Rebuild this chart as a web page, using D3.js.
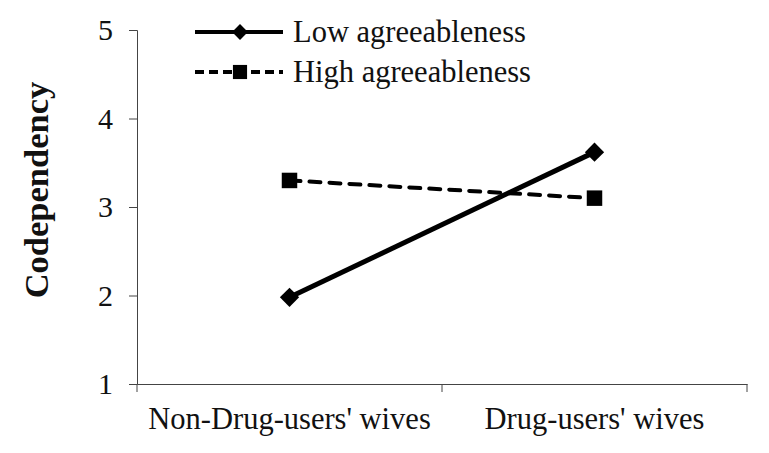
<!DOCTYPE html>
<html><head><meta charset="utf-8">
<script src="https://cdn.jsdelivr.net/npm/d3@7"></script>
<style>body{margin:0;background:#fff}svg{display:block}text{font-family:"Liberation Serif","Times New Roman",serif}</style>
</head><body><svg id="c" width="769" height="453"></svg>
<script>
const categories = ["Non-Drug-users' wives", "Drug-users' wives"];
const lowAgree = [1.98, 3.62];
const highAgree = [3.30, 3.10];
const yTicks = [1, 2, 3, 4, 5];
const seriesNames = ["Low agreeableness", "High agreeableness"];

(function(){
const svg = d3.select("#c");
const mLeft = 137, mRight = 747, mTop = 30, mBottom = 384;
const x = d3.scaleBand().domain(categories).range([mLeft, mRight]);
const y = d3.scaleLinear().domain([1, 5]).range([mBottom, mTop]);

// y axis
const ya = svg.append("g").attr("transform", `translate(${mLeft},0)`)
  .call(d3.axisLeft(y).tickValues(yTicks).tickSize(8).tickPadding(16).tickFormat(d3.format("d")));
ya.select(".domain").attr("stroke", "#444").attr("stroke-width", 1);
ya.selectAll(".tick line").attr("stroke", "#444");
ya.selectAll("text").attr("font-size", 30).attr("fill", "#111").attr("font-family", "Liberation Serif");

// x axis
const xa = svg.append("g").attr("transform", `translate(0,${mBottom})`)
  .call(d3.axisBottom(x).tickSize(0).tickPadding(23));
xa.select(".domain").attr("stroke", "#444").attr("stroke-width", 1);
xa.selectAll("text").attr("font-size", 30.5).attr("fill", "#111").attr("font-family", "Liberation Serif");
const bounds = [mLeft, mLeft + x.step(), mRight];
svg.append("g").selectAll("line").data(bounds).join("line")
  .attr("x1", d => d).attr("x2", d => d).attr("y1", mBottom).attr("y2", mBottom + 8)
  .attr("stroke", "#444");

// y label
svg.append("text").attr("transform", `translate(48,190) rotate(-90)`)
  .attr("text-anchor", "middle").attr("font-size", 34.5).attr("font-weight", "bold")
  .attr("fill", "#111").text("Codependency");

const cx = d => x(d) + x.bandwidth() / 2;
const line = d3.line().x((d, i) => cx(categories[i])).y(d => y(d));

svg.append("path").datum(highAgree).attr("d", line).attr("fill", "none")
  .attr("stroke", "#000").attr("stroke-width", 4).attr("stroke-linecap", "round")
  .attr("stroke-dasharray", "11,9");
svg.append("path").datum(lowAgree).attr("d", line).attr("fill", "none")
  .attr("stroke", "#000").attr("stroke-width", 5);

svg.append("g").selectAll("path").data(lowAgree).join("path")
  .attr("transform", (d, i) => `translate(${cx(categories[i])},${y(d)}) rotate(45)`)
  .attr("d", d3.symbol().type(d3.symbolSquare).size(185)).attr("fill", "#000");
svg.append("g").selectAll("path").data(highAgree).join("path")
  .attr("transform", (d, i) => `translate(${cx(categories[i])},${y(d)})`)
  .attr("d", d3.symbol().type(d3.symbolSquare).size(240)).attr("fill", "#000");

// legend
const lg = svg.append("g");
const rows = [
  {name: seriesNames[0], dash: null, w: 4, sym: "diamond", y: 32},
  {name: seriesNames[1], dash: "9,5", w: 4, sym: "square", y: 72}
];
rows.forEach(r => {
  lg.append("line").attr("x1", 195).attr("x2", 283).attr("y1", r.y).attr("y2", r.y)
    .attr("stroke", "#000").attr("stroke-width", r.w).attr("stroke-dasharray", r.dash);
  if (r.sym === "diamond") {
    lg.append("path").attr("transform", `translate(240,${r.y}) rotate(45)`)
      .attr("d", d3.symbol().type(d3.symbolSquare).size(125)).attr("fill", "#000");
  } else {
    lg.append("path").attr("transform", `translate(240,${r.y})`)
      .attr("d", d3.symbol().type(d3.symbolSquare).size(200)).attr("fill", "#000");
  }
  lg.append("text").attr("x", 293).attr("y", r.y + 10).attr("font-size", 30.5)
    .attr("fill", "#111").text(r.name);
});
})();
</script></body></html>
